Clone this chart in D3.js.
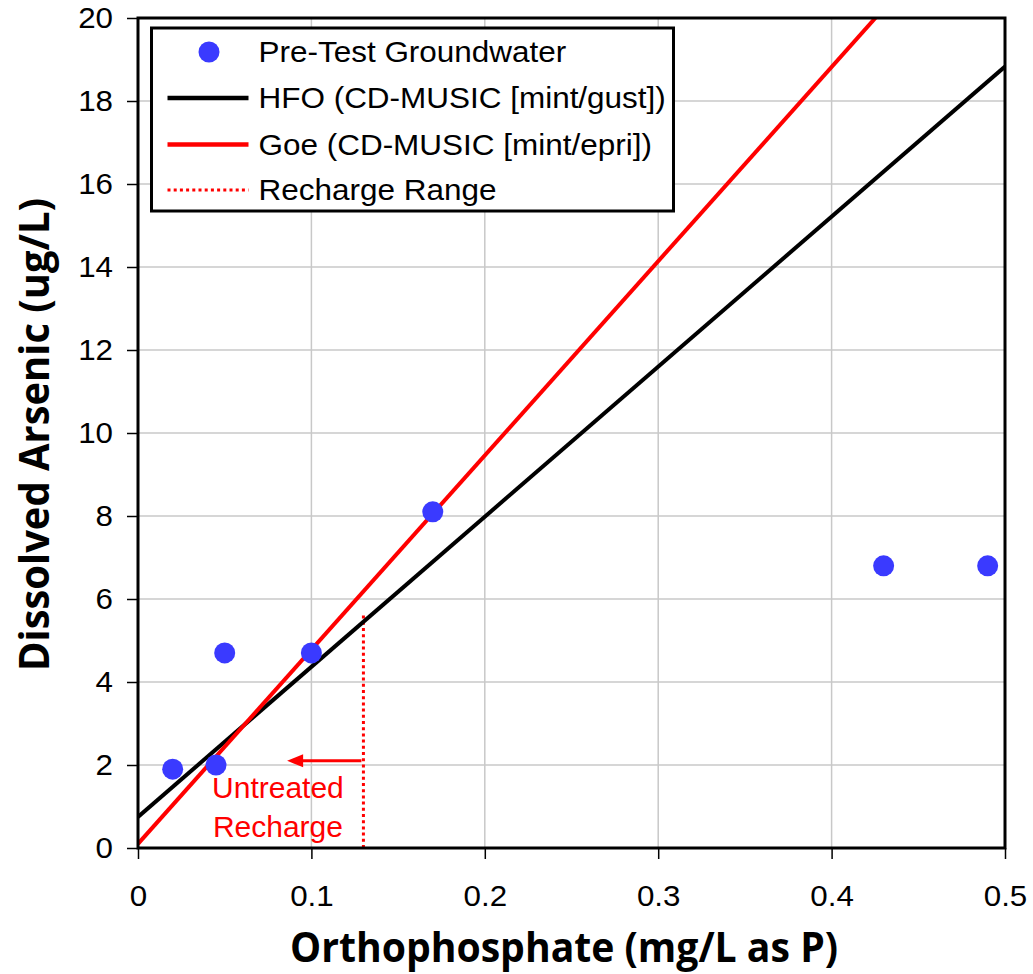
<!DOCTYPE html>
<html lang="en">
<head>
    <meta charset="UTF-8">
    <title>Dissolved Arsenic vs Orthophosphate</title>
    <style>
        body {
            margin: 0;
            background: #fff;
        }
        svg text {
            font-family: "Liberation Sans", Arial, sans-serif;
        }
        .grid line {
            stroke: #c8c8c8;
            stroke-width: 1.5px;
        }
        .title {
            font-family: "Open Sans", sans-serif !important;
            font-weight: bold;
            font-size: 42px;
        }
    </style>
</head>
<body>
    <svg width="1033" height="974"></svg>
    <script src="https://d3js.org/d3.v7.min.js"></script>
    <script>
        // measured groundwater samples
        const sampleP = [0.02, 0.045, 0.05, 0.1, 0.17, 0.43, 0.49];
        const sampleAs = [1.9, 2.0, 4.7, 4.7, 8.1, 6.8, 6.8];
        // model lines (end points)
        const hfoP = [0, 0.5];
        const hfoAs = [0.75, 18.83];
        const goeP = [0, 0.5];
        const goeAs = [0.1, 23.5];
        // recharge range marker
        const rechargeP = 0.13;
        const rechargeTop = 5.6;
        const arrowAs = 2.1;
        const arrowToP = 0.086;
        const xTicks = [0, 0.1, 0.2, 0.3, 0.4, 0.5];
        const yTicks = [0, 2, 4, 6, 8, 10, 12, 14, 16, 18, 20];
        const legendLabels = ["Pre-Test Groundwater", "HFO (CD-MUSIC [mint/gust])", "Goe (CD-MUSIC [mint/epri])", "Recharge Range"];

        const svg = d3.select("svg");
        const margin = { top: 18, right: 28, bottom: 126, left: 138 };
        const width = 1033 - margin.left - margin.right;
        const height = 974 - margin.top - margin.bottom;

        const x = d3.scaleLinear().domain([0, 0.5]).range([0, width]);
        const y = d3.scaleLinear().domain([0, 20]).range([height, 0]);

        const g = svg.append("g").attr("transform", `translate(${margin.left},${margin.top})`);

        svg.append("defs").append("clipPath").attr("id", "plot-clip")
            .append("rect").attr("width", width).attr("height", height);

        // stretch text a little wider, like the source rendering
        function widen(sel, k) {
            sel.each(function () {
                const w = this.getComputedTextLength();
                d3.select(this).attr("textLength", w * k).attr("lengthAdjust", "spacingAndGlyphs");
            });
        }

        // grid
        const grid = g.append("g").attr("class", "grid");
        grid.selectAll(".gx").data(xTicks.slice(1, -1)).enter().append("line")
            .attr("x1", d => x(d)).attr("x2", d => x(d))
            .attr("y1", 0).attr("y2", height);
        grid.selectAll(".gy").data(yTicks.slice(1, -1)).enter().append("line")
            .attr("y1", d => y(d)).attr("y2", d => y(d))
            .attr("x1", 0).attr("x2", width);

        // axes
        const xAxis = g.append("g").attr("transform", `translate(0,${height})`)
            .call(d3.axisBottom(x).tickValues(xTicks).tickSize(11).tickPadding(26)
                .tickFormat(d => d === 0 ? "0" : d3.format(".1f")(d)));
        const yAxis = g.append("g")
            .call(d3.axisLeft(y).tickValues(yTicks).tickSize(11).tickPadding(14));
        [xAxis, yAxis].forEach(a => {
            a.select(".domain").remove();
            a.selectAll(".tick line").attr("stroke", "#000").attr("stroke-width", 1.5);
            a.selectAll(".tick text").attr("fill", "#000").style("font-size", "29px");
            widen(a.selectAll(".tick text"), 1.08);
        });
        xAxis.selectAll(".tick text").attr("dy", "0.71em");

        const plot = g.append("g").attr("clip-path", "url(#plot-clip)");
        const line = d3.line().x(d => x(d[0])).y(d => y(d[1]));

        // recharge dotted line
        plot.append("line")
            .attr("x1", x(rechargeP)).attr("x2", x(rechargeP))
            .attr("y1", y(0)).attr("y2", y(rechargeTop))
            .attr("stroke", "#ff0000").attr("stroke-width", 3)
            .attr("stroke-dasharray", "3,3.2");

        // model lines
        plot.append("path").datum(d3.zip(hfoP, hfoAs)).attr("d", line)
            .attr("fill", "none").attr("stroke", "#000").attr("stroke-width", 4);
        plot.append("path").datum(d3.zip(goeP, goeAs)).attr("d", line)
            .attr("fill", "none").attr("stroke", "#ff0000").attr("stroke-width", 4);

        // arrow
        const ax0 = x(rechargeP) - 2, ax1 = x(arrowToP), ay = y(arrowAs);
        g.append("line")
            .attr("x1", ax0).attr("x2", ax1 + 12)
            .attr("y1", ay).attr("y2", ay)
            .attr("stroke", "#ff0000").attr("stroke-width", 3);
        g.append("path")
            .attr("d", `M${ax1},${ay} L${ax1 + 16},${ay - 6.5} L${ax1 + 16},${ay + 6.5} Z`)
            .attr("fill", "#ff0000");

        const note = g.append("text").attr("x", x(0.0807)).attr("y", y(arrowAs) + 37)
            .attr("text-anchor", "middle").attr("fill", "#ff0000")
            .style("font-size", "30px");
        note.selectAll("tspan").data(["Untreated", "Recharge"]).enter().append("tspan")
            .attr("x", x(0.0807)).attr("dy", (d, i) => i === 0 ? 0 : 39)
            .text(d => d);

        // samples
        g.append("g").selectAll("circle").data(d3.zip(sampleP, sampleAs)).enter().append("circle")
            .attr("cx", d => x(d[0])).attr("cy", d => y(d[1])).attr("r", 10.5)
            .attr("fill", "#3a3aff");

        // frame
        g.append("rect").attr("width", width).attr("height", height)
            .attr("fill", "none").attr("stroke", "#000").attr("stroke-width", 3);

        // legend
        const lg = g.append("g").attr("transform", `translate(${151.5 - margin.left},${28 - margin.top})`);
        lg.append("rect").attr("width", 522).attr("height", 183)
            .attr("fill", "#fff").attr("stroke", "#000").attr("stroke-width", 3);
        const rowY = [24, 70, 116.5, 162];
        const items = lg.selectAll(".item").data(legendLabels).enter().append("g")
            .attr("transform", (d, i) => `translate(0,${rowY[i]})`);
        const legText = items.append("text").attr("x", 107).attr("dy", "0.36em")
            .style("font-size", "29px").attr("fill", "#000")
            .text(d => d);
        widen(legText, 1.085);
        items.filter((d, i) => i === 0).append("circle")
            .attr("cx", 57.5).attr("r", 10.5).attr("fill", "#3a3aff");
        items.filter((d, i) => i === 1 || i === 2).append("line")
            .attr("x1", 16).attr("x2", 97)
            .attr("stroke", (d, i) => i === 0 ? "#000" : "#ff0000").attr("stroke-width", 4.5);
        items.filter((d, i) => i === 3).append("line")
            .attr("x1", 16).attr("x2", 97)
            .attr("stroke", "#ff0000").attr("stroke-width", 3).attr("stroke-dasharray", "3,3.2");

        // axis titles
        svg.append("text").attr("class", "title")
            .attr("x", 290).attr("y", 962)
            .attr("textLength", 548).attr("lengthAdjust", "spacingAndGlyphs")
            .text("Orthophosphate (mg/L as P)");
        svg.append("text").attr("class", "title")
            .attr("transform", "translate(49,671) rotate(-90)")
            .attr("x", 0).attr("y", 0)
            .attr("textLength", 473).attr("lengthAdjust", "spacingAndGlyphs")
            .text("Dissolved Arsenic (ug/L)");
    </script>
</body>
</html>
